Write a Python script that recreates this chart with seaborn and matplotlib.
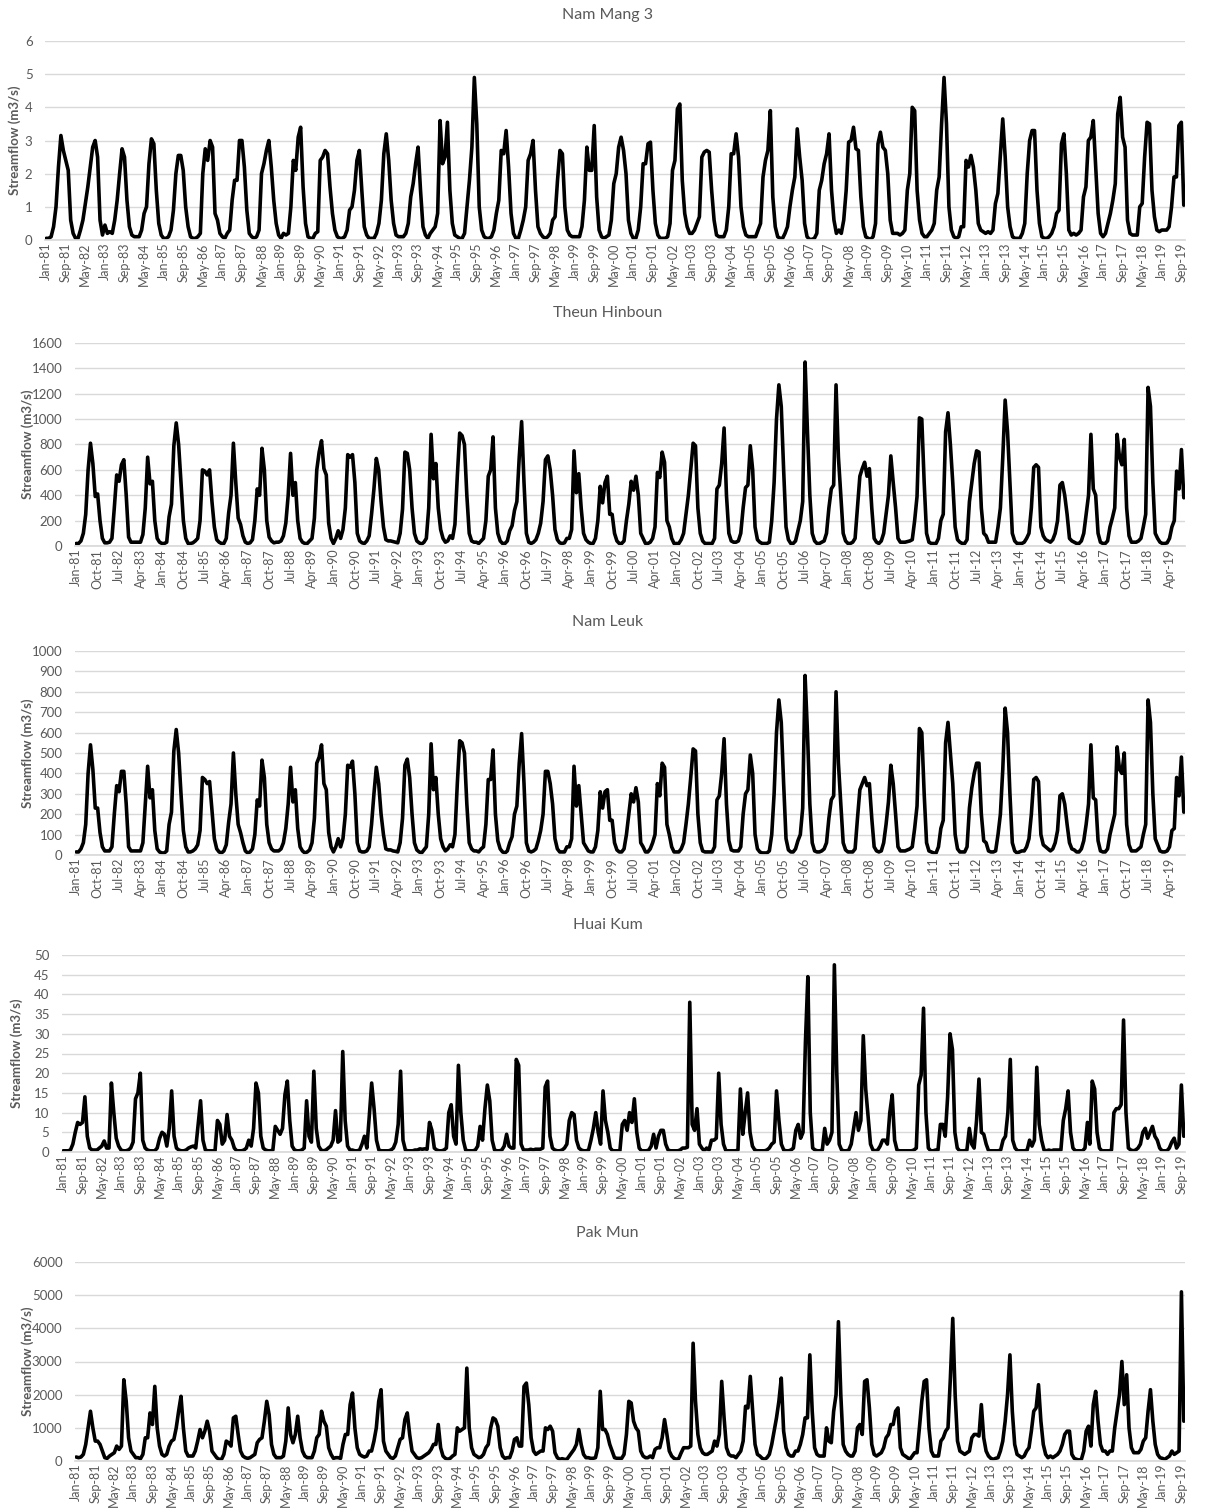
import numpy as np
import pandas as pd
import matplotlib
matplotlib.use("Agg")
import matplotlib.pyplot as plt
import seaborn as sns

# ---------------------------------------
# Monthly streamflow (m3/s), Jan-1981 .. Oct-2019, one row per year
# ---------------------------------------
nam_mang_3 = [
    [0.05,0.05,0.1,0.4,1.0,2.2,3.15,2.7,2.4,2.1,0.6,0.2],
    [0.05,0.05,0.3,0.6,1.1,1.6,2.2,2.8,3.0,2.5,0.6,0.15],
    [0.45,0.2,0.25,0.2,0.6,1.2,2.0,2.75,2.5,1.2,0.4,0.15],
    [0.1,0.1,0.1,0.3,0.8,1.0,2.3,3.05,2.9,1.5,0.5,0.15],
    [0.05,0.05,0.1,0.3,0.9,2.0,2.55,2.55,2.1,1.0,0.4,0.1],
    [0.05,0.05,0.1,0.2,2.0,2.75,2.4,3.0,2.8,0.8,0.6,0.2],
    [0.1,0.05,0.2,0.3,1.2,1.8,1.8,3.0,3.0,2.2,0.9,0.2],
    [0.1,0.05,0.1,0.3,2.0,2.3,2.7,3.0,2.2,1.2,0.5,0.15],
    [0.05,0.2,0.15,0.2,1.0,2.4,2.1,3.1,3.4,1.6,0.5,0.1],
    [0.05,0.05,0.2,0.25,2.4,2.5,2.7,2.6,1.6,0.8,0.3,0.1],
    [0.05,0.05,0.1,0.3,0.9,1.0,1.5,2.4,2.7,1.5,0.4,0.15],
    [0.05,0.05,0.05,0.2,0.5,1.2,2.6,3.2,2.4,1.2,0.5,0.15],
    [0.1,0.1,0.1,0.2,0.5,1.3,1.7,2.3,2.8,1.5,0.4,0.15],
    [0.05,0.2,0.3,0.4,0.8,3.6,2.3,2.5,3.55,1.5,0.5,0.15],
    [0.1,0.05,0.05,0.2,1.0,1.8,2.8,4.9,3.5,1.0,0.3,0.1],
    [0.05,0.05,0.1,0.3,0.8,1.2,2.7,2.6,3.3,2.2,0.8,0.2],
    [0.05,0.05,0.3,0.6,1.0,2.4,2.6,3.0,1.5,0.4,0.2,0.1],
    [0.05,0.1,0.2,0.6,0.7,1.8,2.7,2.6,1.0,0.3,0.15,0.1],
    [0.1,0.1,0.1,0.4,1.2,2.8,2.1,2.1,3.45,1.3,0.3,0.1],
    [0.05,0.1,0.15,0.6,1.7,2.0,2.8,3.1,2.7,2.0,0.6,0.2],
    [0.05,0.05,0.3,1.0,2.3,2.3,2.9,2.95,1.5,0.5,0.15,0.05],
    [0.05,0.05,0.1,0.5,2.1,2.4,3.95,4.1,1.8,0.8,0.4,0.2],
    [0.2,0.3,0.5,0.7,2.5,2.65,2.7,2.65,1.5,0.6,0.15,0.1],
    [0.1,0.1,0.3,1.0,2.6,2.6,3.2,2.5,1.0,0.4,0.15,0.1],
    [0.1,0.1,0.1,0.3,0.5,1.9,2.4,2.7,3.9,1.3,0.4,0.1],
    [0.05,0.05,0.2,0.4,1.0,1.5,1.9,3.35,2.5,1.8,0.5,0.1],
    [0.02,0.02,0.05,0.2,1.5,1.8,2.3,2.6,3.2,1.5,0.6,0.2],
    [0.3,0.2,0.6,1.5,2.95,3.0,3.4,2.75,2.7,1.3,0.4,0.1],
    [0.05,0.02,0.1,0.5,2.9,3.25,2.8,2.7,2.0,0.6,0.2,0.2],
    [0.2,0.15,0.2,0.3,1.5,2.0,4.0,3.9,1.5,0.6,0.2,0.1],
    [0.1,0.2,0.3,0.5,1.5,1.9,3.5,4.9,3.5,1.0,0.3,0.1],
    [0.05,0.1,0.4,0.4,2.4,2.2,2.55,2.2,1.5,0.5,0.3,0.25],
    [0.2,0.25,0.2,0.3,1.1,1.4,2.5,3.65,2.5,1.0,0.4,0.1],
    [0.05,0.05,0.05,0.2,0.5,2.0,3.0,3.3,3.3,1.5,0.5,0.1],
    [0.05,0.05,0.1,0.2,0.4,0.8,0.9,2.9,3.2,2.0,0.3,0.15],
    [0.2,0.15,0.2,0.3,1.3,1.6,3.0,3.1,3.6,2.2,0.8,0.2],
    [0.1,0.2,0.5,0.8,1.2,1.7,3.8,4.3,3.1,2.8,0.6,0.2],
    [0.15,0.15,0.15,1.0,1.1,2.5,3.55,3.5,1.5,0.7,0.3,0.25],
    [0.3,0.3,0.3,0.4,1.0,1.9,1.9,3.45,3.55,1.05],
]

theun_hinboun = [
    [20,20,40,100,250,600,810,650,390,410,200,60],
    [25,25,30,60,300,560,510,640,680,400,70,30],
    [30,30,30,30,90,300,700,490,510,200,60,30],
    [20,20,30,230,330,790,970,800,500,200,60,20],
    [20,25,40,60,200,600,590,560,600,350,150,50],
    [30,20,20,60,260,400,810,500,220,170,80,30],
    [20,25,50,200,450,400,770,600,200,70,40,25],
    [30,30,40,80,180,400,730,400,500,200,60,30],
    [20,20,40,60,220,600,740,830,610,560,180,60],
    [20,60,120,60,130,300,720,700,720,500,100,40],
    [25,20,40,80,250,450,690,600,350,150,50,40],
    [40,35,30,25,100,290,740,730,600,300,100,40],
    [25,15,30,60,300,880,530,650,300,130,60,30],
    [40,80,60,170,550,890,870,800,400,100,40,30],
    [30,20,40,60,200,550,600,860,300,100,40,20],
    [20,40,120,160,280,350,700,980,500,100,30,20],
    [30,50,100,180,350,680,710,600,400,130,50,25],
    [20,25,60,60,130,750,420,570,300,100,50,30],
    [20,20,60,200,470,340,500,550,250,250,100,40],
    [20,20,40,200,330,510,440,550,400,100,60,20],
    [20,30,60,150,580,540,740,660,200,150,60,20],
    [20,20,50,100,250,400,600,810,790,300,100,40],
    [20,20,20,20,60,450,480,650,930,400,100,40],
    [30,30,40,100,300,460,480,790,600,150,50,30],
    [20,20,20,30,200,500,1000,1270,1100,600,150,50],
    [20,20,40,120,200,350,1450,900,400,100,40,20],
    [20,30,40,100,300,450,480,1270,700,400,100,40],
    [20,20,30,60,300,550,610,660,550,610,300,60],
    [30,20,40,100,250,400,710,500,300,60,30,30],
    [30,35,40,50,200,390,1010,1000,500,100,30,20],
    [20,20,60,200,250,900,1050,800,500,150,50,30],
    [20,20,50,350,500,650,750,740,300,100,80,30],
    [30,30,30,150,300,700,1150,900,500,100,40,20],
    [20,20,30,60,100,300,620,640,620,150,80,50],
    [40,30,50,100,200,480,500,400,250,60,40,30],
    [20,20,40,100,250,400,880,450,400,100,30,20],
    [20,40,150,220,300,880,700,640,840,300,80,30],
    [30,30,40,60,150,250,1250,1100,500,100,60,30],
    [20,20,25,60,150,200,590,450,760,380],
]

nam_leuk = [
    [15,15,30,60,150,400,540,420,230,230,110,40],
    [20,20,20,40,200,340,310,410,410,250,40,20],
    [20,20,20,20,60,250,435,280,320,120,30,15],
    [10,10,20,150,210,510,615,500,300,120,40,15],
    [15,20,30,50,120,380,370,350,360,220,80,30],
    [15,10,20,50,160,250,500,300,150,110,60,20],
    [10,15,30,100,270,240,465,380,150,60,30,20],
    [20,20,30,60,130,250,430,260,320,130,40,20],
    [10,15,25,60,180,450,480,540,350,320,110,40],
    [15,40,80,40,80,200,440,430,460,300,60,20],
    [15,15,20,40,150,300,430,350,200,100,30,25],
    [25,20,18,15,60,180,440,470,380,200,60,25],
    [15,10,25,40,200,545,320,380,200,80,40,20],
    [30,50,40,100,350,560,550,500,250,60,30,20],
    [20,15,30,40,150,370,370,515,200,70,30,15],
    [10,20,60,90,200,240,450,595,350,60,20,15],
    [20,30,70,120,200,410,410,350,250,80,30,15],
    [15,15,40,40,80,435,240,340,200,60,40,20],
    [15,15,40,120,310,230,310,320,170,170,60,25],
    [15,15,30,100,200,300,260,330,260,60,40,15],
    [15,30,60,100,350,290,450,430,150,100,40,15],
    [15,15,30,60,150,250,380,520,510,200,60,20],
    [15,15,15,15,40,270,290,400,570,250,70,25],
    [20,20,20,40,200,300,320,490,400,100,30,15],
    [10,10,10,20,100,300,600,760,650,350,80,25],
    [15,15,30,70,100,230,880,600,250,60,20,15],
    [15,20,30,60,180,270,290,800,450,250,60,25],
    [15,15,15,30,180,320,350,380,340,350,180,40],
    [20,15,20,60,150,260,440,350,200,40,20,20],
    [20,25,30,40,130,240,620,600,300,60,20,15],
    [10,10,40,130,170,550,650,500,350,100,30,15],
    [15,15,40,230,330,400,450,450,200,70,60,20],
    [15,15,20,100,200,420,720,600,300,60,20,10],
    [15,20,20,40,80,200,370,380,360,100,50,40],
    [30,20,30,60,120,290,300,250,150,60,30,25],
    [15,15,30,70,150,250,540,280,270,70,20,15],
    [15,30,100,150,200,530,420,400,500,150,50,20],
    [20,20,30,40,100,150,760,650,300,80,50,20],
    [15,15,20,40,120,130,380,290,480,210],
]

huai_kum = [
    [0.3,0.3,0.3,0.5,2.0,5.0,7.5,7.0,7.5,14.0,4.0,1.0],
    [0.5,0.5,0.5,1.0,1.5,2.8,1.0,1.0,17.5,10.0,3.5,1.5],
    [0.5,0.3,0.3,0.5,1.0,2.5,13.5,15.0,20.0,3.0,1.0,0.5],
    [0.3,0.3,0.3,1.0,3.5,5.0,4.5,1.5,6.0,15.5,4.0,1.0],
    [0.5,0.3,0.3,0.5,1.0,1.3,1.5,1.0,7.0,13.0,3.0,0.5],
    [0.3,0.3,0.3,0.3,8.0,7.0,2.0,3.0,9.5,4.0,3.0,1.0],
    [0.3,0.3,0.3,0.5,1.0,3.0,1.5,6.0,17.5,15.0,4.0,1.0],
    [0.5,0.3,0.3,0.5,6.5,5.5,4.5,6.0,14.5,18.0,8.0,1.5],
    [0.5,0.3,0.3,0.5,1.0,13.0,4.0,2.5,20.5,6.0,1.5,0.5],
    [0.3,0.5,1.0,1.5,3.0,10.5,2.5,3.0,25.5,8.0,1.5,0.5],
    [0.5,0.3,0.3,0.5,2.0,4.0,1.0,9.0,17.5,11.0,3.0,0.5],
    [0.3,0.3,0.3,0.3,0.5,1.0,2.5,7.0,20.5,3.0,0.5,0.3],
    [0.3,0.3,0.5,0.5,0.8,0.7,0.8,0.7,7.5,5.5,1.0,0.5],
    [0.3,0.3,0.5,1.0,10.0,12.0,4.0,2.0,22.0,10.0,3.0,0.5],
    [0.3,0.3,0.3,0.5,1.5,6.5,3.0,11.0,17.0,13.0,3.0,0.5],
    [0.3,0.3,0.5,1.5,4.5,1.5,1.0,1.0,23.5,22.0,2.0,0.5],
    [0.5,0.5,0.7,0.5,0.7,0.7,0.7,1.0,16.5,18.0,4.0,1.0],
    [0.5,0.3,0.3,0.5,1.0,2.0,8.0,10.0,9.5,3.0,1.0,0.5],
    [0.3,0.3,0.5,3.0,6.0,10.0,5.0,2.0,15.5,8.0,5.0,1.0],
    [0.3,0.3,0.3,0.3,7.0,8.0,5.5,10.0,7.5,13.5,5.0,1.0],
    [0.3,0.3,0.3,0.5,1.5,4.5,1.0,4.0,5.5,5.5,2.0,0.5],
    [0.3,0.3,0.3,0.3,0.5,1.0,1.0,1.2,38.0,7.0,5.5,11.0],
    [2.0,1.0,0.3,1.0,0.5,3.0,3.0,3.5,20.0,7.0,2.0,0.3],
    [0.3,0.3,0.3,0.3,0.5,16.0,4.5,10.0,15.0,5.0,1.5,0.5],
    [0.3,0.3,0.3,0.3,0.5,1.0,2.0,2.5,15.5,8.0,2.0,0.5],
    [0.3,0.3,0.5,1.0,5.5,7.0,3.5,5.0,28.0,44.5,10.0,1.0],
    [0.5,0.3,0.3,0.5,6.0,2.0,3.0,5.0,47.5,20.0,2.0,0.5],
    [0.3,0.3,0.5,2.0,6.0,10.0,5.5,8.0,29.5,16.0,9.0,2.0],
    [0.5,0.3,0.5,1.5,3.0,3.0,2.0,10.0,14.5,3.0,0.5,0.3],
    [0.3,0.3,0.3,0.3,0.3,0.5,1.0,17.0,19.5,36.5,10.0,1.0],
    [0.3,0.3,0.5,0.5,7.0,7.0,4.0,14.0,30.0,26.0,5.0,1.0],
    [0.3,0.3,0.3,0.5,6.0,2.0,1.0,8.0,18.5,5.0,4.5,2.0],
    [0.3,0.3,0.3,0.3,0.3,0.5,3.0,4.0,10.0,23.5,3.0,1.0],
    [0.3,0.3,0.3,0.3,0.5,3.0,1.5,3.0,21.5,7.0,3.0,0.5],
    [0.3,0.5,0.3,0.5,0.5,0.5,0.5,8.0,11.0,15.5,5.0,1.0],
    [0.3,0.3,0.3,0.3,1.0,7.5,2.0,18.0,16.0,5.0,1.0,0.3],
    [0.3,0.3,0.3,0.5,10.0,11.0,11.0,12.0,33.5,10.0,1.0,0.5],
    [0.3,0.5,1.0,2.0,5.0,6.0,3.5,5.0,6.5,4.0,3.0,1.0],
    [0.3,0.3,0.3,1.0,2.5,3.5,1.0,2.0,17.0,4.0],
]

pak_mun = [
    [120,100,120,200,500,1000,1500,1000,600,600,500,300],
    [100,80,150,200,250,450,350,450,2450,1800,700,300],
    [200,100,100,70,200,700,700,1450,1100,2250,1000,450],
    [200,150,200,450,600,650,1000,1500,1950,1000,300,150],
    [150,150,300,600,950,700,900,1200,900,300,200,100],
    [50,50,200,600,550,450,1300,1350,800,300,150,100],
    [80,100,150,200,550,650,700,1200,1800,1400,500,200],
    [100,100,100,150,600,1600,800,550,800,1350,700,300],
    [150,100,100,100,300,700,800,1500,1200,1050,400,200],
    [80,100,100,80,500,800,800,1700,2050,1000,400,200],
    [150,120,150,300,300,600,1000,1800,2150,600,300,200],
    [100,80,150,400,650,700,1250,1450,800,300,200,100],
    [80,100,150,200,250,350,500,500,1100,400,150,80],
    [50,80,150,200,1000,900,950,1000,2800,1000,400,200],
    [150,100,120,200,400,500,1000,1300,1250,1050,400,150],
    [80,100,100,300,650,700,450,450,2250,2350,1700,700],
    [300,200,250,300,300,1000,950,1050,900,250,100,50],
    [70,50,50,150,250,350,500,950,500,200,100,100],
    [80,80,100,400,2100,950,950,800,500,300,100,80],
    [80,80,200,800,1800,1750,1200,1000,900,300,150,100],
    [100,150,100,350,400,400,700,1250,800,300,150,80],
    [50,80,250,400,400,400,450,3550,1800,800,400,250],
    [200,200,250,300,600,450,800,2400,1300,400,200,150],
    [150,100,200,300,600,1650,1600,2550,1500,500,200,150],
    [80,50,100,200,500,900,1300,1800,2500,900,400,200],
    [150,150,300,300,500,800,1300,1300,3200,1500,400,200],
    [150,150,150,1000,600,550,1500,2000,4200,2000,500,300],
    [200,150,150,300,1000,1100,800,2400,2450,1600,500,200],
    [150,200,250,400,700,800,1100,1100,1500,1600,400,200],
    [150,100,50,150,250,250,1000,1800,2400,2450,1000,300],
    [150,150,150,600,700,900,1000,2500,4300,2000,600,300],
    [250,200,250,300,700,800,800,750,1700,700,300,150],
    [80,50,80,100,300,600,1200,2000,3200,1500,500,200],
    [150,100,150,300,400,900,1500,1600,2300,1200,500,200],
    [100,150,100,150,200,300,500,800,900,900,200,80],
    [50,30,50,300,900,1050,450,1700,2100,1200,500,300],
    [300,200,300,300,1000,1500,2000,3000,1700,2600,1000,400],
    [250,250,250,350,600,700,1500,2150,1200,500,200,100],
    [80,50,100,150,300,200,250,300,5100,1200],
]

titles = ["Nam Mang 3", "Theun Hinboun", "Nam Leuk", "Huai Kum", "Pak Mun"]
y_max = [6, 1600, 1000, 50, 6000]
y_step = [1, 200, 100, 5, 1000]
label_every = [8, 9, 9, 8, 8]

months = pd.date_range("1981-01-01", periods=466, freq="MS")
month_labels = months.strftime("%b-%y").tolist()

# ---------------------------------------
# Figure
# ---------------------------------------
sns.set_theme(style="whitegrid")
plt.rcParams["font.family"] = ["Lato", "DejaVu Sans"]

W, H = 1215, 1509
fig = plt.figure(figsize=(W / 100, H / 100), dpi=100)

# left, top, bottom of each plot area in pixels
boxes = [(45, 41, 240), (75, 343, 546), (75, 651, 855), (62, 955, 1152), (75, 1262, 1461)]
title_y = [15, 313, 622, 925, 1233]
ylabel_x = [15, 28, 28, 17, 28]
right = 1185
grey = "#595959"

series = [nam_mang_3, theun_hinboun, nam_leuk, huai_kum, pak_mun]

for i, data in enumerate(series):
    flow = [v for year in data for v in year]
    df = pd.DataFrame({"idx": np.arange(len(flow)), "flow": flow})

    left, top, bottom = boxes[i]
    ax = fig.add_axes([left / W, 1 - bottom / H, (right - left) / W, (bottom - top) / H])
    sns.lineplot(data=df, x="idx", y="flow", ax=ax, color="black", linewidth=2.6)

    ax.set_xlim(-0.5, len(flow) - 0.5)
    ax.set_ylim(0, y_max[i])
    ax.set_yticks(np.arange(0, y_max[i] + y_step[i] / 2, y_step[i]))
    pos = np.arange(0, len(flow), label_every[i])
    ax.set_xticks(pos)
    ax.set_xticklabels([month_labels[p] for p in pos], rotation=90)
    ax.tick_params(axis="y", labelsize=9.5, colors=grey, length=0, pad=9)
    ax.tick_params(axis="x", labelsize=9, colors=grey, length=0, pad=2)

    ax.grid(axis="y", color="#d9d9d9", linewidth=1)
    ax.grid(axis="x", visible=False)
    for s in ["top", "left", "right"]:
        ax.spines[s].set_visible(False)
    ax.spines["bottom"].set_color("#d9d9d9")
    ax.set_xlabel("")
    ax.set_ylabel("")
    ax.set_facecolor("white")

    fig.text(0.5, 1 - title_y[i] / H, titles[i], ha="center", va="center",
             fontsize=11.5, color=grey)
    fig.text(ylabel_x[i] / W, 1 - (top + bottom) / 2 / H, "Streamflow (m3/s)",
             rotation=90, ha="center", va="center",
             fontsize=9.5, fontweight="bold", color=grey)

fig.savefig("out.png", dpi=100, facecolor="white")
